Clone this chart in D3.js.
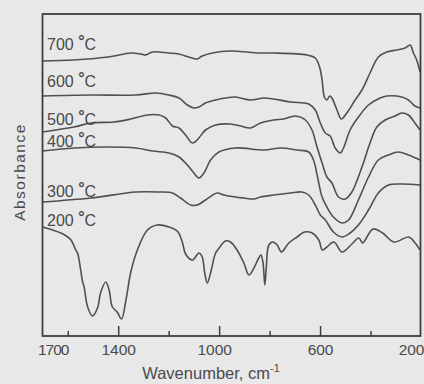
<!DOCTYPE html>
<html>
<head>
<meta charset="utf-8">
<script src="https://cdn.jsdelivr.net/npm/d3@7"></script>
<style>
  body { margin: 0; background: #e8e8e8; }
  svg { display: block; }
  text { font-family: "Liberation Sans", Arial, sans-serif; fill: #4a4a4a; }
</style>
</head>
<body>
<svg id="chart" width="424" height="384"></svg>
<script>
// IR spectra, [wavenumber cm-1, absorbance (arb. units)]
const spec700 = [[1700,2.75],[1576,2.76],[1441,2.79],[1350,2.83],[1311,2.82],[1291,2.81],[1264,2.84],[1200,2.83],[1160,2.82],[1121,2.79],[1087,2.77],[1067,2.80],[1027,2.83],[955,2.85],[889,2.84],[849,2.83],[785,2.83],[652,2.81],[619,2.78],[602,2.69],[592,2.56],[583,2.39],[573,2.36],[562,2.40],[553,2.38],[533,2.26],[516,2.17],[494,2.23],[461,2.36],[434,2.46],[402,2.63],[369,2.79],[336,2.84],[296,2.86],[263,2.88],[243,2.91],[230,2.83],[217,2.76],[204,2.64]];
const spec600 = [[1700,2.40],[1508,2.41],[1330,2.41],[1251,2.43],[1199,2.41],[1159,2.38],[1126,2.31],[1100,2.28],[1080,2.29],[1054,2.33],[1014,2.36],[975,2.38],[935,2.39],[876,2.36],[823,2.38],[784,2.37],[718,2.34],[645,2.32],[619,2.26],[599,2.13],[579,2.03],[560,2.00],[540,1.88],[520,1.83],[507,1.88],[481,2.06],[448,2.19],[408,2.31],[362,2.38],[336,2.40],[276,2.39],[250,2.36],[224,2.30],[204,2.28]];
const spec500 = [[1700,2.04],[1576,2.09],[1508,2.13],[1417,2.14],[1350,2.17],[1284,2.21],[1238,2.21],[1212,2.18],[1185,2.10],[1159,2.08],[1133,2.01],[1106,1.93],[1087,1.96],[1054,2.06],[1014,2.11],[955,2.12],[915,2.10],[876,2.08],[836,2.13],[784,2.16],[744,2.17],[698,2.20],[658,2.16],[632,2.06],[612,1.89],[592,1.73],[573,1.59],[553,1.53],[527,1.39],[500,1.37],[474,1.44],[434,1.69],[402,1.93],[375,2.09],[342,2.16],[303,2.20],[276,2.23],[250,2.21],[224,2.13],[204,2.06]];
const spec400 = [[1700,1.85],[1574,1.88],[1442,1.89],[1330,1.88],[1264,1.85],[1199,1.83],[1159,1.79],[1126,1.71],[1100,1.63],[1080,1.58],[1060,1.63],[1034,1.76],[1001,1.84],[935,1.88],[823,1.86],[757,1.88],[691,1.86],[645,1.84],[626,1.76],[610,1.59],[592,1.39],[573,1.29],[547,1.19],[513,1.13],[487,1.16],[448,1.36],[408,1.59],[369,1.76],[329,1.81],[290,1.84],[250,1.81],[204,1.76]];
const spec300 = [[1700,1.34],[1508,1.38],[1330,1.44],[1238,1.44],[1185,1.43],[1153,1.38],[1113,1.31],[1087,1.31],[1054,1.36],[1008,1.43],[981,1.41],[935,1.39],[902,1.38],[863,1.37],[836,1.39],[784,1.41],[718,1.43],[672,1.44],[645,1.41],[619,1.31],[599,1.21],[579,1.16],[547,1.04],[513,0.99],[481,1.03],[448,1.11],[408,1.26],[369,1.43],[329,1.51],[276,1.52],[204,1.51]];
const spec200 = [[1700,1.09],[1627,1.03],[1600,0.99],[1587,0.96],[1568,0.86],[1560,0.82],[1541,0.54],[1535,0.49],[1521,0.29],[1502,0.20],[1482,0.28],[1469,0.44],[1449,0.54],[1436,0.46],[1423,0.29],[1404,0.24],[1387,0.17],[1370,0.35],[1350,0.64],[1324,0.86],[1284,1.06],[1245,1.11],[1199,1.09],[1166,1.05],[1146,0.94],[1133,0.82],[1106,0.76],[1080,0.83],[1067,0.79],[1057,0.63],[1047,0.53],[1034,0.63],[1014,0.83],[1000,0.88],[975,0.95],[955,0.94],[929,0.86],[902,0.73],[882,0.61],[862,0.68],[843,0.78],[834,0.81],[826,0.73],[819,0.51],[813,0.69],[803,0.91],[787,0.94],[770,0.91],[753,0.84],[724,0.93],[691,0.99],[662,1.04],[631,1.03],[605,0.96],[591,0.86],[573,0.89],[545,0.94],[513,0.84],[474,0.92],[447,0.98],[431,0.93],[421,0.96],[390,1.07],[352,1.03],[307,0.94],[249,0.99],[223,0.93],[204,0.86]];

const series = [spec700, spec600, spec500, spec400, spec300, spec200];
const temps = ['700', '600', '500', '400', '300', '200'];
const labelY = [50, 87, 125, 146.5, 196.5, 225.5];

const majorTicks = [1400, 1000, 600];
const minorTicks = [1600, 1200, 800, 400];
const tickLabels = [1700, 1400, 1000, 600, 200];

const svg = d3.select('#chart');
const plotTop = 14, plotBottom = 336;

const x = d3.scaleLinear().domain([1700, 200]).range([42.5, 421]);
const y = d3.scaleLinear().domain([0, 3.22]).range([plotBottom, plotTop]);

svg.append('clipPath').attr('id', 'clip')
  .append('rect')
  .attr('x', x(1700)).attr('y', plotTop)
  .attr('width', x(200) - x(1700) - 0.5).attr('height', plotBottom - plotTop);

const line = d3.line()
  .x(d => x(d[0]))
  .y(d => y(d[1]))
  .curve(d3.curveCatmullRom.alpha(0.5));

svg.append('g').attr('clip-path', 'url(#clip)')
  .selectAll('path')
  .data(series)
  .join('path')
  .attr('d', line)
  .attr('fill', 'none')
  .attr('stroke', '#505050')
  .attr('stroke-width', 1.6)
  .attr('stroke-linejoin', 'round');

// frame
svg.append('rect')
  .attr('x', x(1700)).attr('y', plotTop)
  .attr('width', x(200) - x(1700) - 0.5).attr('height', plotBottom - plotTop)
  .attr('fill', 'none')
  .attr('stroke', '#3e3e3e')
  .attr('stroke-width', 1.8);

// ticks point inward
const major = d3.axisBottom(x).tickValues(majorTicks).tickSize(-10).tickFormat('');
const minor = d3.axisBottom(x).tickValues(minorTicks).tickSize(-5).tickFormat('');
[major, minor].forEach(ax => {
  const g = svg.append('g').attr('transform', `translate(0,${plotBottom})`).call(ax);
  g.select('.domain').remove();
  g.selectAll('line').attr('stroke', '#3e3e3e').attr('stroke-width', 1.5);
});

const labAxis = d3.axisBottom(x).tickValues(tickLabels).tickSize(0).tickPadding(8).tickFormat(d3.format('d'));
const lg = svg.append('g').attr('transform', `translate(0,${plotBottom})`).call(labAxis);
lg.select('.domain').remove();
lg.selectAll('text')
  .attr('font-family', '"Liberation Sans", Arial, sans-serif')
  .attr('font-size', 15.5)
  .attr('fill', '#4a4a4a')
  .attr('text-anchor', d => d === 1700 ? 'start' : d === 200 ? 'end' : 'middle')
  .attr('dx', d => d === 1700 ? -5 : d === 200 ? 3 : d === 1000 ? -5 : 0)
  .attr('letter-spacing', d => d === 1700 ? -1 : 0);

// temperature labels
const tl = svg.append('g').selectAll('text')
  .data(temps)
  .join('text')
  .attr('x', 47)
  .attr('y', (d, i) => labelY[i])
  .attr('font-size', 16);
tl.append('tspan').text(d => d + ' ');
tl.append('tspan').text('°').attr('dy', -3).attr('font-weight', 'bold');
tl.append('tspan').text('C').attr('dy', 3);

// axis titles
const xt = svg.append('text')
  .attr('x', 211).attr('y', 379)
  .attr('text-anchor', 'middle')
  .attr('font-size', 16.5);
xt.append('tspan').text('Wavenumber, cm');
xt.append('tspan').text('-1').attr('font-size', 11).attr('dy', -7);

svg.append('text')
  .attr('transform', 'translate(25,172) rotate(-90)')
  .attr('text-anchor', 'middle')
  .attr('font-size', 15.5)
  .attr('letter-spacing', 1.5)
  .text('Absorbance');
</script>
</body>
</html>
